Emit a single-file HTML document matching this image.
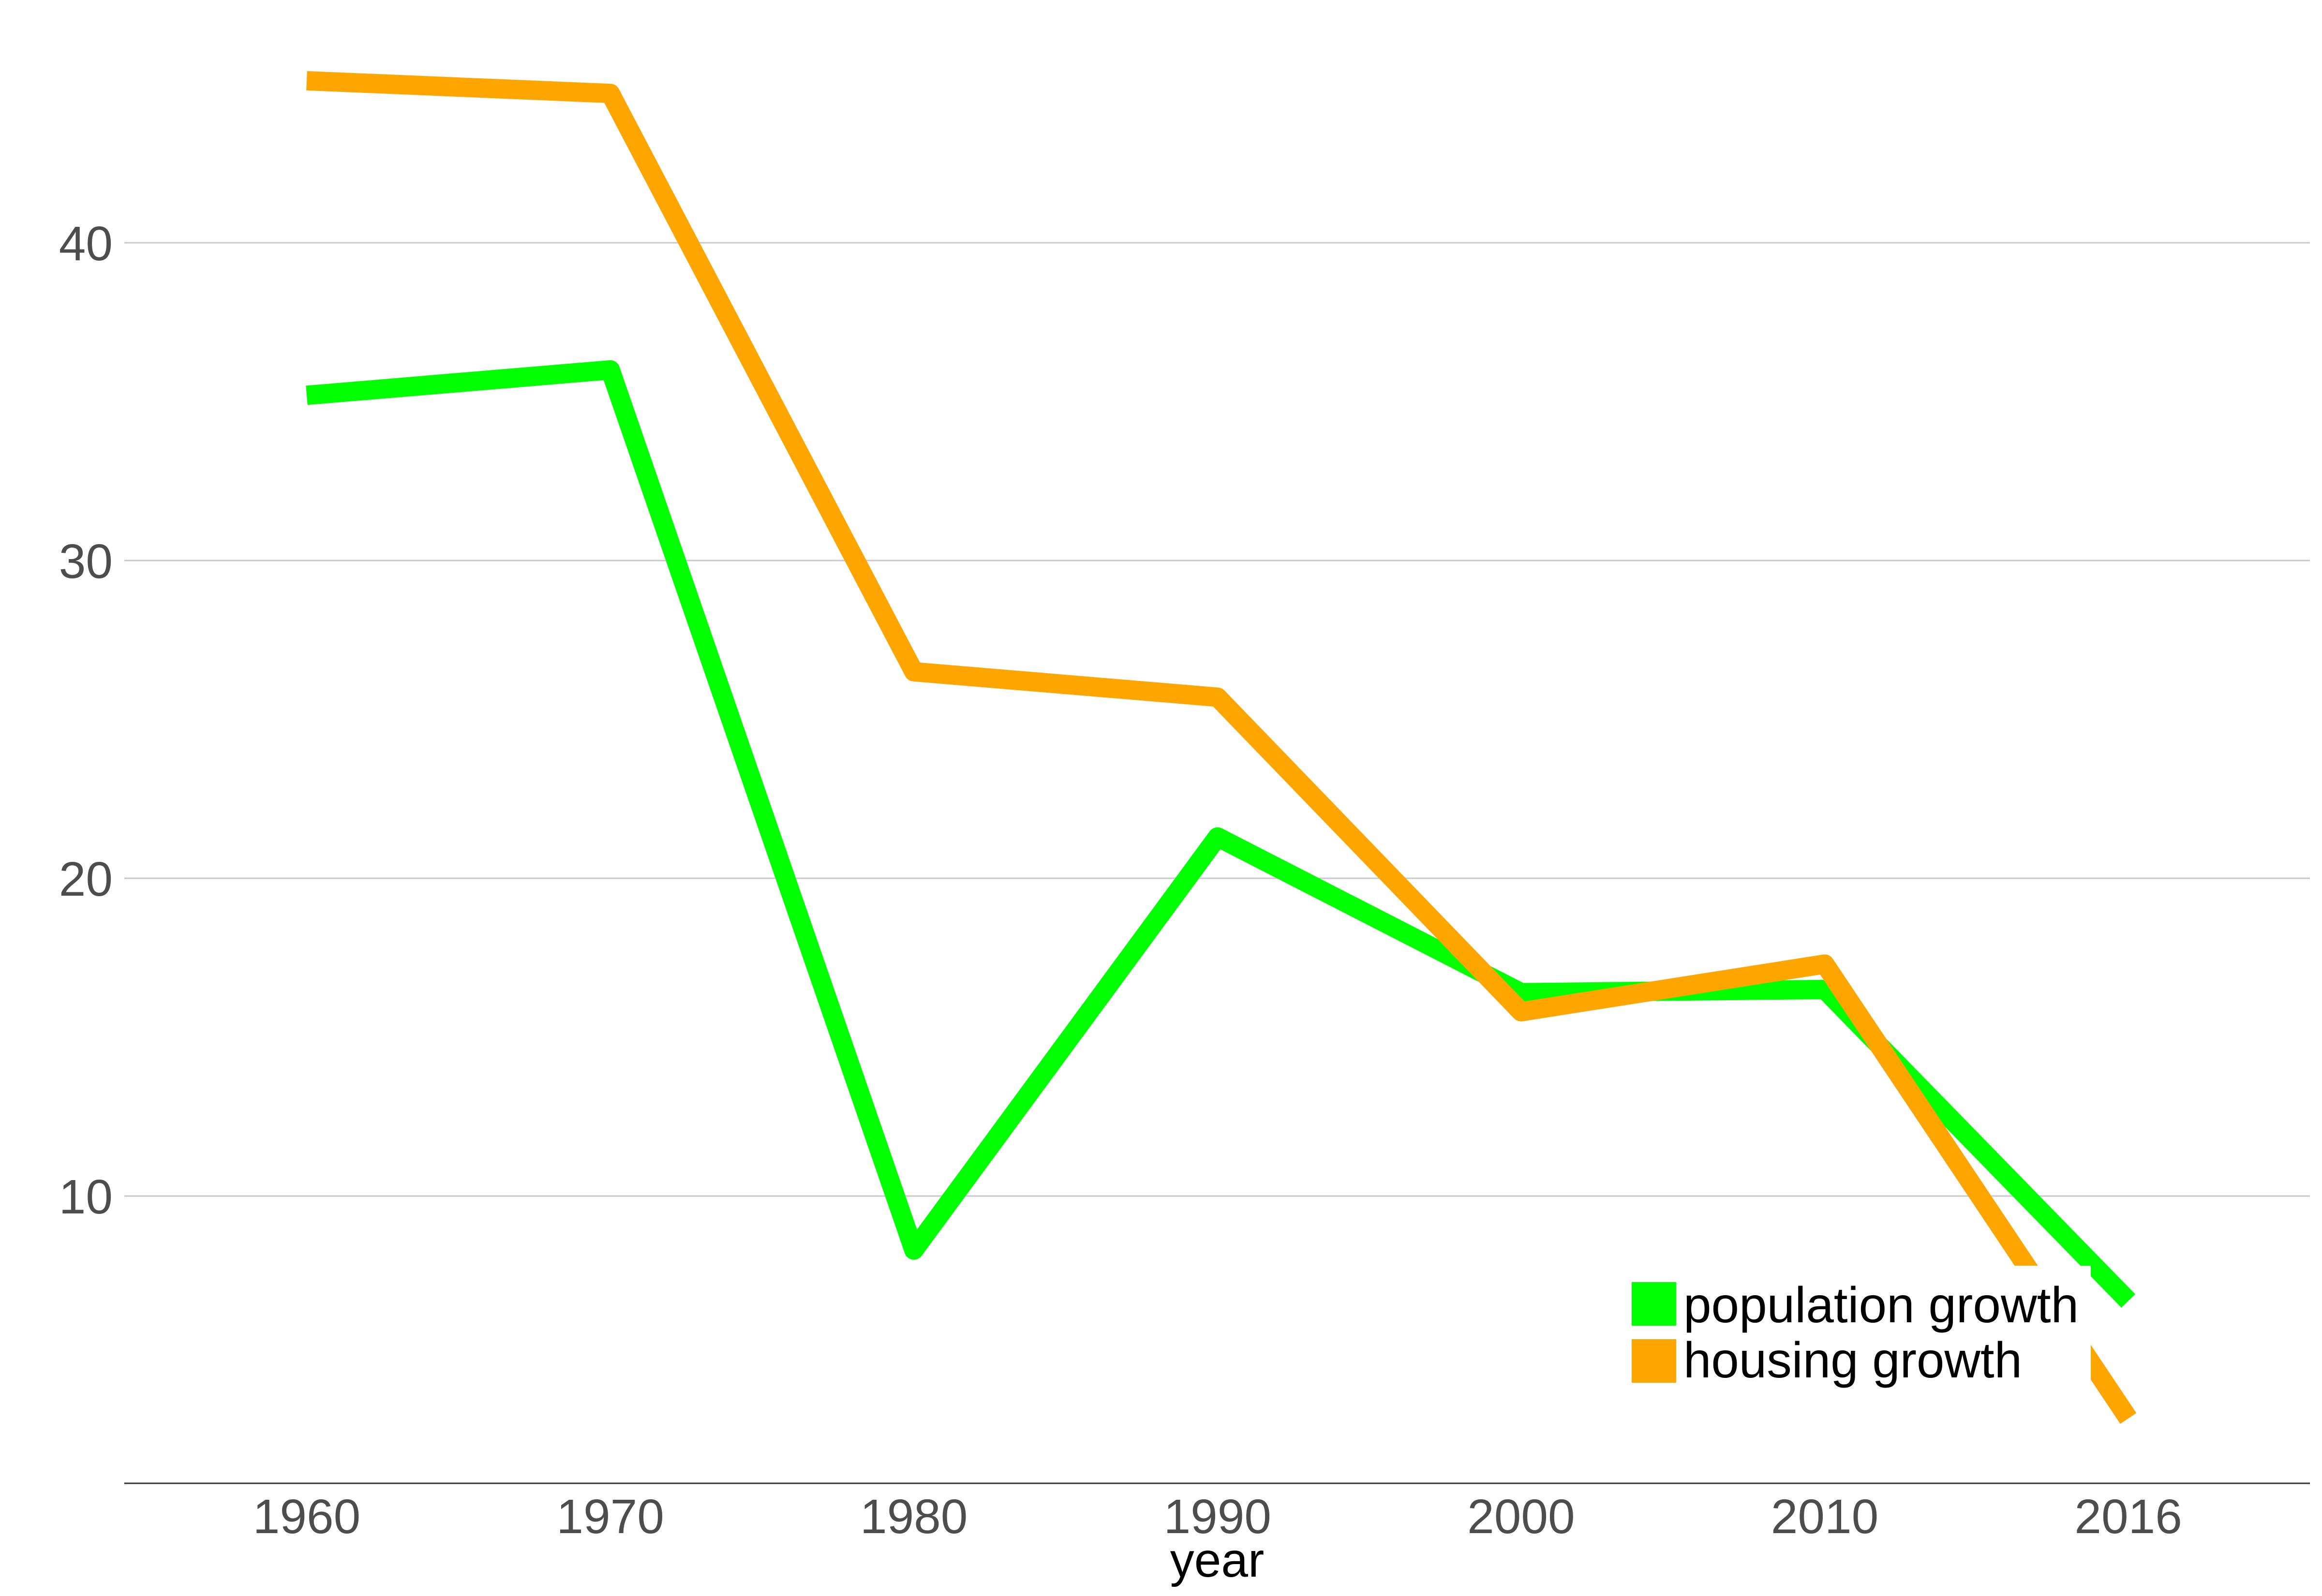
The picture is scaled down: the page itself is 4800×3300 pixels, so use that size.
<!DOCTYPE html>
<html><head><meta charset="utf-8"><style>
html,body{margin:0;padding:0;background:#fff;}
svg{display:block;font-family:"Liberation Sans",sans-serif;}
</style></head><body>
<svg id="chart" width="4800" height="3300" viewBox="0 0 4800 3300" xmlns="http://www.w3.org/2000/svg">
<rect width="4800" height="3300" fill="#fff"/>
<g id="grid"></g><g id="lines"></g><g id="axes"></g><g id="legend"></g>
</svg>
<script>
const categories = ["1960","1970","1980","1990","2000","2010","2016"];
const population = [35.2, 36.0, 8.3, 21.3, 16.4, 16.5, 6.7];
const housing = [45.1, 44.7, 26.5, 25.7, 15.8, 17.3, 3.0];
const yTicks = [10, 20, 30, 40];
const NS = "http://www.w3.org/2000/svg";
function xPos(i){ return 634 + i * 627.6; }
function yPos(v){ return 502 + (40 - v) * 65.7; }
function mk(tag, attrs, parent){ const e=document.createElementNS(NS,tag); for(const k in attrs) e.setAttribute(k,attrs[k]); parent.appendChild(e); return e; }
const grid=document.getElementById('grid'), lines=document.getElementById('lines'), axes=document.getElementById('axes'), legend=document.getElementById('legend');
yTicks.forEach(v=>{
  const l=mk('line',{x1:257,x2:4775,y1:yPos(v),y2:yPos(v),stroke:'#c8c8c8','stroke-width':3},grid);
  
  
  const t=mk('text',{x:233,y:yPos(v)+36,'text-anchor':'end','font-size':100,fill:'#4d4d4d'},axes);
  t.textContent=v;
  
  
});
const ax=mk('line',{x1:257,x2:4775,y1:3067,y2:3067,stroke:'#333','stroke-width':3},axes);


categories.forEach((c,i)=>{
  const t=mk('text',{x:xPos(i),y:3170,'text-anchor':'middle','font-size':100,fill:'#4d4d4d'},axes);
  t.textContent=c;
  
  
});
const xt=mk('text',{x:2516,y:3260,'text-anchor':'middle','font-size':100,fill:'#000'},axes);
xt.textContent='year';


function series(vals,color,name){
  const p=mk('polyline',{points:vals.map((v,i)=>xPos(i)+','+yPos(v)).join(' '),fill:'none',stroke:color,'stroke-width':40,'stroke-linejoin':'round','stroke-linecap':'butt'},lines);
  
  
}
series(population,'#00ff00','population-growth-line');
series(housing,'#ffa500','housing-growth-line');
const bg=mk('rect',{x:3352,y:2617,width:970,height:261,fill:'#fff'},legend);


[['population growth','#00ff00',2651,2734,'legend-entry-population'],['housing growth','#ffa500',2769,2848,'legend-entry-housing']].forEach(e=>{
  const r=mk('rect',{x:3373,y:e[2],width:92,height:90,fill:e[1]},legend);
  
  
  const t=mk('text',{x:3480,y:e[3],'font-size':104,fill:'#000',textLength:e[0]==='population growth'?817:700,lengthAdjust:'spacingAndGlyphs'},legend);
  t.textContent=e[0];
  
  
});
</script>
</body></html>
